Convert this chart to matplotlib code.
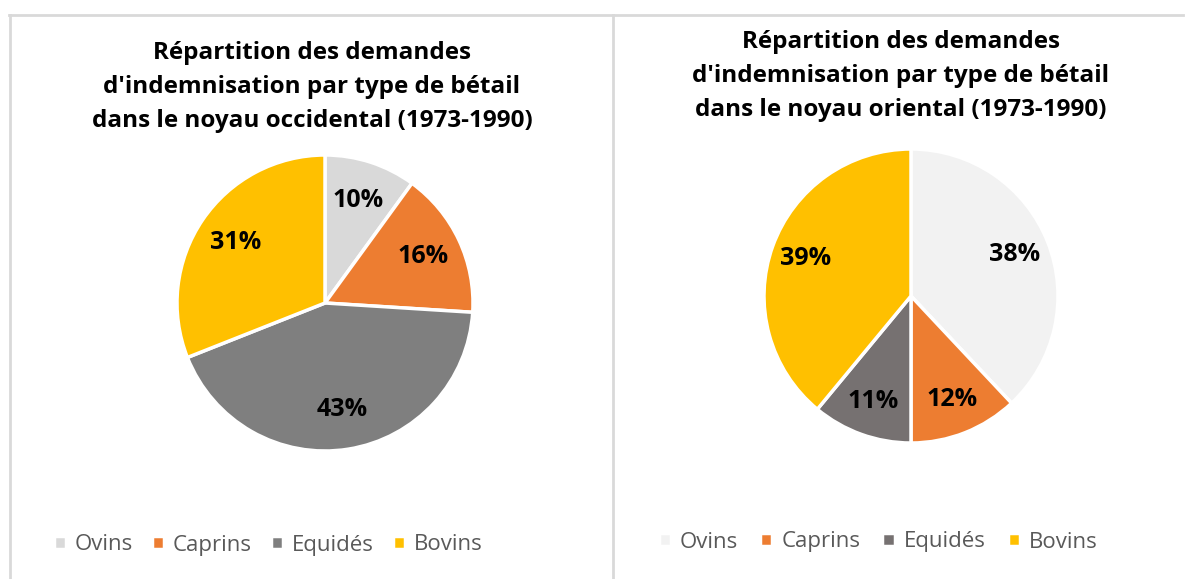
import numpy as np
from matplotlib import pyplot as plt
from matplotlib.lines import Line2D

plt.rcParams['font.family'] = ['Open Sans', 'DejaVu Sans']

categories = ["Ovins", "Caprins", "Equidés", "Bovins"]
occidental = [10, 16, 43, 31]
oriental = [38, 12, 11, 39]
colors_occ = ["#D9D9D9", "#ED7D31", "#7F7F7F", "#FFC000"]
colors_ori = ["#F2F2F2", "#ED7D31", "#767171", "#FFC000"]
title_occ = ["Répartition des demandes",
             "d'indemnisation par type de bétail",
             "dans le noyau occidental (1973-1990)"]
title_ori = ["Répartition des demandes",
             "d'indemnisation par type de bétail",
             "dans le noyau oriental (1973-1990)"]

W, H = 1185, 579
fig = plt.figure(figsize=(W / 100, H / 100), dpi=100)


def px(x, y):
    # pixel from top-left -> figure fraction
    return x / W, 1 - y / H


def draw_pie(values, colors, cx, cy, r, pctdist, title, tx, ty0, lx, ly, colsp):
    box = 170
    ax = fig.add_axes([(cx - box) / W, (H - cy - box) / H, 2 * box / W, 2 * box / H])
    wedges, texts, autotexts = ax.pie(values, colors=colors, startangle=90, counterclock=False,
                                      autopct='%1.0f%%', pctdistance=pctdist,
                                      wedgeprops=dict(edgecolor='white', linewidth=2.5),
                                      textprops=dict(fontsize=18, fontweight='bold', color='black'))
    lim = box / r
    ax.set_xlim(-lim, lim)
    ax.set_ylim(-lim, lim)
    ax.set_aspect('equal')
    ax.axis('off')
    for i, line in enumerate(title):
        x, y = px(tx, ty0 + 34 * i)
        fig.text(x, y, line, ha='center', va='center', fontsize=17.5, fontweight='bold', color='black')
    x, y = px(lx, ly)
    fig.legend(wedges, categories, loc='center', bbox_to_anchor=(x, y), ncol=4, frameon=False,
               fontsize=16, labelcolor='#595959', handlelength=0.55, handleheight=0.55,
               handletextpad=0.4, columnspacing=colsp, borderaxespad=0)


draw_pie(occidental, colors_occ, 325, 303, 148, 0.73, title_occ, 312, 53, 268, 545, 0.85)
draw_pie(oriental, colors_ori, 911, 296, 147, 0.76, title_ori, 901, 42, 878, 542, 1.0)

# panel borders
border = '#D9D9D9'
fig.add_artist(Line2D([9 / W, 1183 / W], [1 - 15 / H, 1 - 15 / H], color=border, lw=2))
fig.add_artist(Line2D([10 / W, 10 / W], [0, 1 - 15 / H], color=border, lw=2))
fig.add_artist(Line2D([613 / W, 613 / W], [0, 1 - 15 / H], color=border, lw=2))

fig.savefig("out.png", dpi=100)
